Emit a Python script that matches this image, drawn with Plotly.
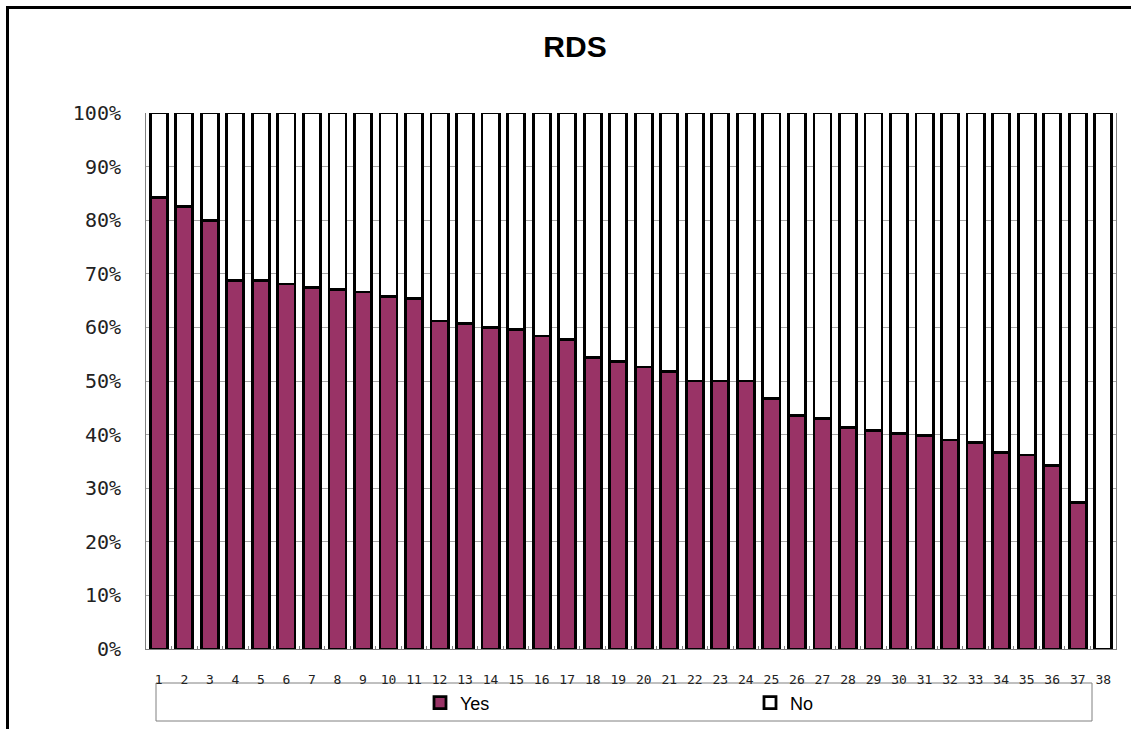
import plotly.graph_objects as go

categories = [str(i) for i in range(1, 39)]
yes_values = [84.3, 82.6, 80.0, 68.7, 68.7, 68.1, 67.4, 67.1, 66.6, 65.7, 65.4,
              61.2, 60.7, 60.0, 59.6, 58.4, 57.8, 54.4, 53.6, 52.6, 51.8, 50.0,
              50.0, 50.0, 46.7, 43.5, 43.0, 41.4, 40.8, 40.2, 39.9, 39.0, 38.5,
              36.6, 36.2, 34.2, 27.3, 0.0]
no_values = [round(100 - v, 1) for v in yes_values]
y_ticks = list(range(0, 101, 10))
y_tick_labels = [f"{t}%" for t in y_ticks]

W, H = 1131, 729
# plot area in window pixels
L, R, T, B = 146, 1116, 113, 649
pw, ph = R - L, B - T

def px(x):
    return (x - L) / pw

def py(y):
    return (B - y) / ph

fig = go.Figure()
fig.add_trace(go.Bar(x=categories, y=yes_values, name="Yes",
                     marker=dict(color="#993366", line=dict(color="black", width=2.8))))
fig.add_trace(go.Bar(x=categories, y=no_values, name="No",
                     marker=dict(color="white", line=dict(color="black", width=2.8))))

fig.update_layout(
    width=W, height=H,
    barmode="stack", bargap=0.33,
    margin=dict(l=L, r=W - R, t=T, b=H - B, pad=0, autoexpand=False),
    paper_bgcolor="white", plot_bgcolor="white",
    title=dict(text="<b>RDS</b>", x=575 / W, xref="container", xanchor="center",
               y=1 - 46 / H, yref="container", yanchor="middle",
               font=dict(family="Liberation Sans, Arial", size=30, color="black")),
    showlegend=True,
    legend=dict(orientation="h", x=px(420), xanchor="left", y=py(703), yanchor="middle",
                entrywidth=285, entrywidthmode="pixels", traceorder="normal",
                font=dict(family="Liberation Sans, Arial", size=18, color="black"),
                bgcolor="rgba(0,0,0,0)", borderwidth=0),
    xaxis=dict(type="category", showgrid=False, showline=True, linecolor="#808080", linewidth=1,
               ticks="inside", ticklen=3, tickcolor="#808080", tickson="boundaries",
               mirror=False, ticklabelstandoff=18, tickangle=0, automargin=False,
               tickfont=dict(family="DejaVu Sans Mono", size=13, color="#222222")),
    yaxis=dict(range=[0, 100], tickvals=y_ticks, ticktext=y_tick_labels,
               showgrid=True, gridcolor="#a6a6a6", gridwidth=1,
               showline=True, linecolor="#808080", linewidth=1, mirror=True,
               ticks="", ticklabelstandoff=20, zeroline=False, automargin=False,
               tickfont=dict(family="DejaVu Sans Mono", size=20, color="#222222")),
    shapes=[
        dict(type="rect", xref="paper", yref="paper",
             x0=px(7.5), x1=px(1160), y0=py(760), y1=py(7.5),
             line=dict(color="black", width=3), fillcolor="rgba(0,0,0,0)", layer="below"),
        dict(type="rect", xref="paper", yref="paper",
             x0=px(156), x1=px(1092), y0=py(721), y1=py(683),
             line=dict(color="#808080", width=1), fillcolor="rgba(0,0,0,0)", layer="below"),
    ],
)

fig.write_html("out.html", config={"displayModeBar": False},
               post_script="document.body.style.margin='0';document.body.style.overflow='hidden';")
